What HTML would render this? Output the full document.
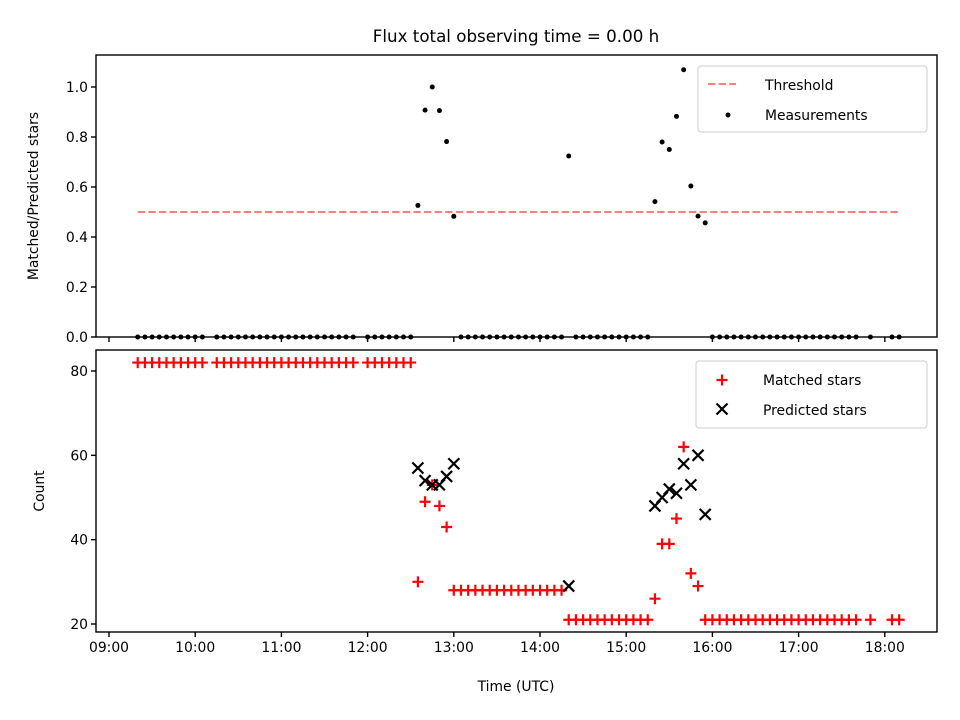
<!DOCTYPE html>
<html><head><meta charset="utf-8"><style>
body{margin:0;background:#fff;}
svg{display:block;font-family:"DejaVu Sans","Liberation Sans",sans-serif;}
</style></head><body>
<svg id="chart" width="960" height="720" xmlns="http://www.w3.org/2000/svg"></svg>
<script>
const times = ["09:20","09:25","09:30","09:35","09:40","09:45","09:50","09:55","10:00","10:05","10:15","10:20","10:25","10:30","10:35","10:40","10:45","10:50","10:55","11:00","11:05","11:10","11:15","11:20","11:25","11:30","11:35","11:40","11:45","11:50","12:00","12:05","12:10","12:15","12:20","12:25","12:30",
"12:35","12:40","12:45","12:50","12:55","13:00",
"13:05","13:10","13:15","13:20","13:25","13:30","13:35","13:40","13:45","13:50","13:55","14:00","14:05","14:10","14:15",
"14:20","14:25","14:30","14:35","14:40","14:45","14:50","14:55","15:00","15:05","15:10","15:15",
"15:20","15:25","15:30","15:35","15:40","15:45","15:50","15:55",
"16:00","16:05","16:10","16:15","16:20","16:25","16:30","16:35","16:40","16:45","16:50","16:55","17:00","17:05","17:10","17:15","17:20","17:25","17:30","17:35","17:40","17:50","18:05","18:10"];
const matched = [82,82,82,82,82,82,82,82,82,82,82,82,82,82,82,82,82,82,82,82,82,82,82,82,82,82,82,82,82,82,82,82,82,82,82,82,82,
30,49,53,48,43,28,
28,28,28,28,28,28,28,28,28,28,28,28,28,28,28,
21,21,21,21,21,21,21,21,21,21,21,21,
26,39,39,45,62,32,29,21,
21,21,21,21,21,21,21,21,21,21,21,21,21,21,21,21,21,21,21,21,21,21,21,21];
const predicted = [null,null,null,null,null,null,null,null,null,null,null,null,null,null,null,null,null,null,null,null,null,null,null,null,null,null,null,null,null,null,null,null,null,null,null,null,null,
57,54,53,53,55,58,
null,null,null,null,null,null,null,null,null,null,null,null,null,null,null,
29,null,null,null,null,null,null,null,null,null,null,null,
48,50,52,51,58,53,60,46,
null,null,null,null,null,null,null,null,null,null,null,null,null,null,null,null,null,null,null,null,null,null,null,null];
const ratio = times.map((t,i)=>predicted[i]?matched[i]/predicted[i]:0);
const xTickLabels = ["09:00","10:00","11:00","12:00","13:00","14:00","15:00","16:00","17:00","18:00"];
const topTicks = [0,0.2,0.4,0.6,0.8,1.0];
const botTicks = [20,40,60,80];
const threshold = 0.5;

const NS="http://www.w3.org/2000/svg";
const svg=document.getElementById('chart');
function mk(tag,attrs,parent){const e=document.createElementNS(NS,tag);for(const k in attrs)e.setAttribute(k,attrs[k]);(parent||svg).appendChild(e);return e;}
function hrs(t){const p=t.split(':');return +p[0]+ (+p[1])/60;}
const L=96,R=937;
const xs=h=>109+(h-9)*86.2;
const T1=55,B1=337, yTop=v=>B1-v*250;
const T2=350,B2=632, yBot=v=>624-(v-20)*253/60;

let e=mk('text',{x:516,y:42,'text-anchor':'middle','font-size':16.7,fill:'#000'});e.textContent='Flux total observing time = 0.00 h';



e=mk('line',{x1:xs(hrs(times[0])),x2:xs(hrs(times[times.length-1])),y1:yTop(threshold),y2:yTop(threshold),stroke:'#ff7f7f','stroke-width':2,'stroke-dasharray':'7.4,3.2'});



times.forEach((t,i)=>{const c=mk('circle',{cx:xs(hrs(t)),cy:yTop(ratio[i]),r:2.5,fill:'#000'});

});

times.forEach((t,i)=>{const x=xs(hrs(t)),y=yBot(matched[i]);
const p=mk('path',{d:`M${x-5.5},${y}H${x+5.5}M${x},${y-5.5}V${y+5.5}`,stroke:'#f00','stroke-width':2.2});

});
times.forEach((t,i)=>{if(predicted[i]==null)return;const x=xs(hrs(t)),y=yBot(predicted[i]);
const p=mk('path',{d:`M${x-5.5},${y-5.5}L${x+5.5},${y+5.5}M${x-5.5},${y+5.5}L${x+5.5},${y-5.5}`,stroke:'#000','stroke-width':2.2});

});

e=mk('rect',{x:L,y:T1,width:R-L,height:B1-T1,fill:'none',stroke:'#000','stroke-width':1.4});


e=mk('rect',{x:L,y:T2,width:R-L,height:B2-T2,fill:'none',stroke:'#000','stroke-width':1.4});



xTickLabels.forEach(l=>{const x=xs(hrs(l));
mk('line',{x1:x,x2:x,y1:B1,y2:B1+5,stroke:'#000','stroke-width':1.4});
mk('line',{x1:x,x2:x,y1:B2,y2:B2+5,stroke:'#000','stroke-width':1.4});
const t=mk('text',{x:x,y:B2+20,'text-anchor':'middle','font-size':13.9});t.textContent=l;

});
topTicks.forEach(v=>{const y=yTop(v);mk('line',{x1:L-5,x2:L,y1:y,y2:y,stroke:'#000','stroke-width':1.4});
const t=mk('text',{x:L-8,y:y+5,'text-anchor':'end','font-size':13.9});t.textContent=v.toFixed(1);

});
botTicks.forEach(v=>{const y=yBot(v);mk('line',{x1:L-5,x2:L,y1:y,y2:y,stroke:'#000','stroke-width':1.4});
const t=mk('text',{x:L-8,y:y+5,'text-anchor':'end','font-size':13.9});t.textContent=v;

});

e=mk('text',{x:516,y:691,'text-anchor':'middle','font-size':13.9});e.textContent='Time (UTC)';


e=mk('text',{x:0,y:0,'text-anchor':'middle','font-size':13.9,transform:'translate(38,196) rotate(-90)'});e.textContent='Matched/Predicted stars';


e=mk('text',{x:0,y:0,'text-anchor':'middle','font-size':13.9,transform:'translate(44,491) rotate(-90)'});e.textContent='Count';



let g=mk('g',{});


mk('rect',{x:698,y:66,width:229,height:66,rx:3,fill:'#fff',stroke:'#ccc'},g);
mk('line',{x1:708,x2:736,y1:84,y2:84,stroke:'#ff7f7f','stroke-width':2,'stroke-dasharray':'7.4,3.2'},g);
e=mk('text',{x:765,y:90,'font-size':13.9},g);e.textContent='Threshold';
mk('circle',{cx:728,cy:115,r:2.5,fill:'#000'},g);
e=mk('text',{x:765,y:120,'font-size':13.9},g);e.textContent='Measurements';

g=mk('g',{});


mk('rect',{x:696,y:361,width:231,height:67,rx:3,fill:'#fff',stroke:'#ccc'},g);
mk('path',{d:'M716.5,380H727.5M722,374.5V385.5',stroke:'#f00','stroke-width':2.2},g);
e=mk('text',{x:763,y:385,'font-size':13.9},g);e.textContent='Matched stars';
mk('path',{d:'M716.5,403.5L727.5,414.5M716.5,414.5L727.5,403.5',stroke:'#000','stroke-width':2.2},g);
e=mk('text',{x:763,y:415,'font-size':13.9},g);e.textContent='Predicted stars';
</script>
</body></html>
